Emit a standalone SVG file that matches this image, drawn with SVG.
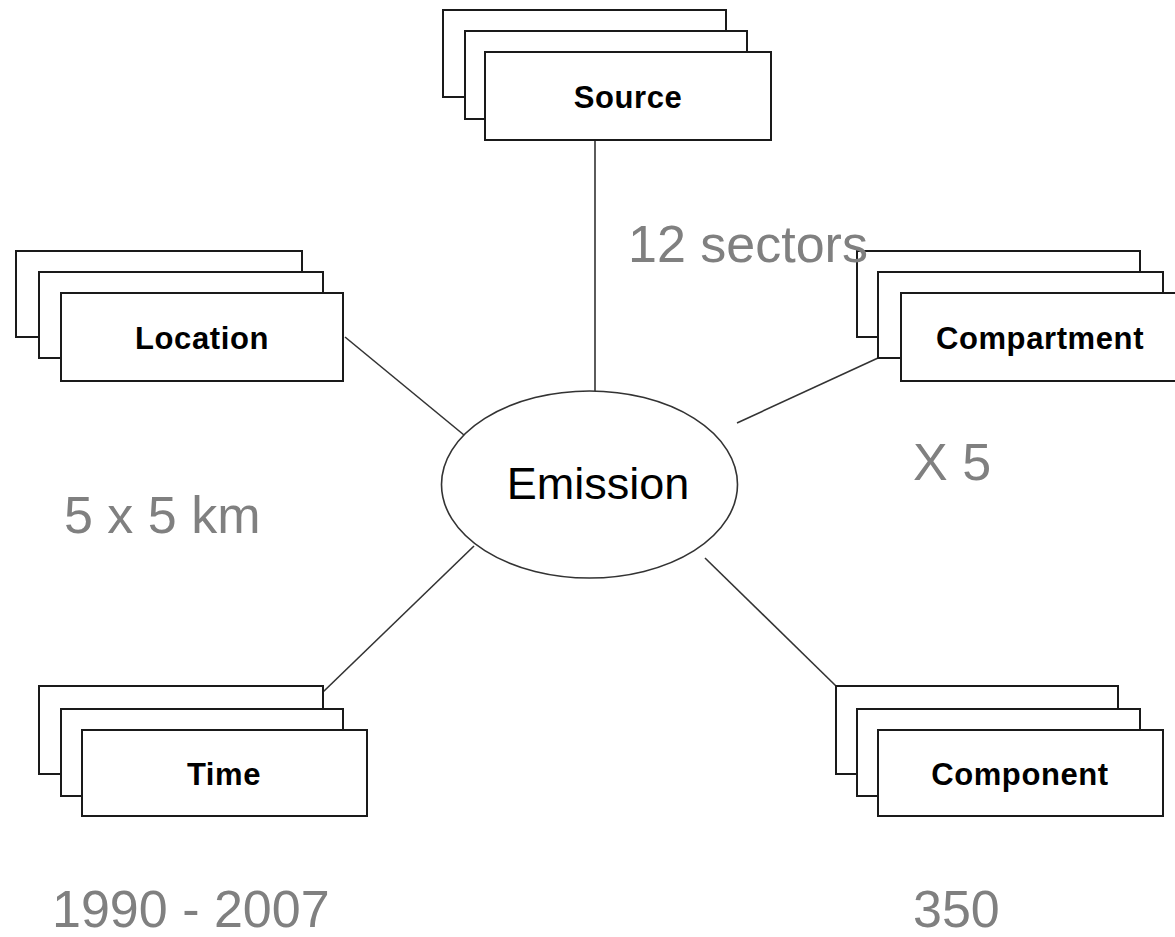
<svg xmlns="http://www.w3.org/2000/svg" width="1175" height="937" viewBox="0 0 1175 937">
<style>
.card{fill:#fff;stroke:#1a1a1a;stroke-width:2}
.lbl{font-family:"Liberation Sans",Arial,sans-serif;font-weight:bold;font-size:31px;letter-spacing:0.6px;fill:#000;text-anchor:middle}
.note{font-family:"Liberation Sans",Arial,sans-serif;font-size:52px;fill:#808080}
.conn line{stroke:#333;stroke-width:1.6}
</style>
<rect width="1175" height="937" fill="#fff"/>
<g class="conn" id="connectors">
<line x1="595" y1="140" x2="595" y2="391"/>
<line x1="345" y1="337" x2="464" y2="435"/>
<line x1="878" y1="358" x2="737" y2="423"/>
<line x1="323" y1="692" x2="474" y2="546"/>
<line x1="705" y1="558" x2="836" y2="686"/>
</g>
<g id="source">
<rect class="card" x="443" y="10" width="283" height="87"/>
<rect class="card" x="465" y="31" width="282" height="88"/>
<rect class="card" x="485" y="52" width="286" height="88"/>
<text class="lbl" x="628" y="108">Source</text>
</g>
<g id="location">
<rect class="card" x="16" y="251" width="286" height="86"/>
<rect class="card" x="39" y="272" width="284" height="86"/>
<rect class="card" x="61" y="293" width="282" height="88"/>
<text class="lbl" x="202" y="349">Location</text>
</g>
<g id="compartment">
<rect class="card" x="857" y="251" width="283" height="86"/>
<rect class="card" x="878" y="272" width="285" height="86"/>
<rect class="card" x="901" y="293" width="276" height="88"/>
<text class="lbl" x="1040" y="349">Compartment</text>
</g>
<g id="time">
<rect class="card" x="39" y="686" width="284" height="88"/>
<rect class="card" x="61" y="709" width="282" height="87"/>
<rect class="card" x="82" y="730" width="285" height="86"/>
<text class="lbl" x="224" y="785">Time</text>
</g>
<g id="component">
<rect class="card" x="836" y="686" width="282" height="88"/>
<rect class="card" x="857" y="709" width="283" height="87"/>
<rect class="card" x="878" y="730" width="285" height="86"/>
<text class="lbl" x="1020" y="785">Component</text>
</g>
<g id="emission">
<ellipse cx="589.5" cy="484.5" rx="148" ry="93.5" fill="#fff" stroke="#333" stroke-width="1.6"/>
<text x="598" y="499" font-family="Liberation Sans, Arial, sans-serif" font-size="45" text-anchor="middle" fill="#000">Emission</text>
</g>
<g id="notes">
<text class="note" x="628" y="262">12 sectors</text>
<text class="note" x="913" y="480">X 5</text>
<text class="note" x="64" y="533">5 x 5 km</text>
<text class="note" x="52" y="927">1990 - 2007</text>
<text class="note" x="913" y="927">350</text>
</g>
</svg>
